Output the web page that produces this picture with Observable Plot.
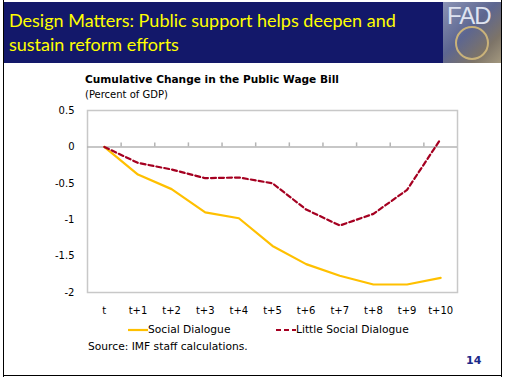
<!DOCTYPE html>
<html>
<head>
<meta charset="utf-8">
<script src="https://cdn.jsdelivr.net/npm/d3@7"></script>
<script src="https://cdn.jsdelivr.net/npm/@observablehq/plot@0.6"></script>
<style>
  html, body { margin: 0; padding: 0; background: #fff; }
  #page { position: relative; width: 506px; height: 380px; overflow: hidden; background: #fff; font-family: "DejaVu Sans", Verdana, sans-serif; }
  #chart { position: absolute; left: 0; top: 0; }
  .abs { position: absolute; white-space: nowrap; }
  #header { position: absolute; left: 3px; top: 2px; width: 440px; height: 61px; background: #13186a; }
  #title { left: 9px; top: 8px; color: #ffff00; font-family: Lato, "Open Sans", sans-serif; font-size: 18px; line-height: 24px; }
  #logo { position: absolute; left: 443px; top: 2px; width: 59px; height: 61px; background: linear-gradient(135deg, #8a93b5 0%, #5d6690 45%, #7d7468 75%, #a59a80 100%); }
  #logo span { position: absolute; left: 4px; top: 0px; font-family: "Liberation Sans", sans-serif; font-size: 24px; color: #dfe3f0; letter-spacing: -1px; }
  #logo i { position: absolute; left: 12px; top: 24px; width: 34px; height: 34px; border-radius: 50%; border: 2px solid #c9b27a; box-sizing: border-box; }
  #borderL { position: absolute; left: 3px; top: 0; width: 1px; height: 377px; background: #000; }
  #borderR { position: absolute; left: 501px; top: 0; width: 1px; height: 377px; background: #000; }
  #borderB { position: absolute; left: 3px; top: 375px; width: 499px; height: 1px; background: #000; }
  #ctitle { left: 85px; top: 73px; font-size: 10.6px; font-weight: bold; color: #000; }
  #csub { left: 85px; top: 89px; font-size: 10px; color: #000; }
  .leg { top: 323px; font-size: 10.7px; color: #000; }
  #source { left: 88px; top: 340px; font-size: 10.7px; color: #000; }
  #pnum { left: 466px; top: 354px; font-size: 11px; font-weight: bold; color: #1b2a8a; }
</style>
</head>
<body>
<div id="page">
  <div id="chart"></div>
  <div id="header"></div>
  <div id="logo"><span>FAD</span><i></i></div>
  <div id="title" class="abs">Design Matters: Public support helps deepen and<br>sustain reform efforts</div>
  <div id="borderL"></div>
  <div id="borderR"></div>
  <div id="borderB"></div>
  <div id="ctitle" class="abs">Cumulative Change in the Public Wage Bill</div>
  <div id="csub" class="abs">(Percent of GDP)</div>
  <div id="legend"></div>
  <div id="source" class="abs">Source: IMF staff calculations.</div>
  <div id="pnum" class="abs">14</div>
</div>
<script>
const periods = ["t", "t+1", "t+2", "t+3", "t+4", "t+5", "t+6", "t+7", "t+8", "t+9", "t+10"];
const socialDialogue = [0, -0.38, -0.58, -0.90, -0.98, -1.36, -1.61, -1.77, -1.89, -1.89, -1.80];
const littleSocialDialogue = [0, -0.22, -0.31, -0.43, -0.42, -0.50, -0.86, -1.08, -0.92, -0.59, 0.11];
const yTicks = [0.5, 0, -0.5, -1, -1.5, -2];
const seriesNames = ["Social Dialogue", "Little Social Dialogue"];
const seriesColors = ["#ffc000", "#a50021"];

const rowsA = periods.map((p, i) => ({i, value: socialDialogue[i]}));
const rowsB = periods.map((p, i) => ({i, value: littleSocialDialogue[i]}));
const boundaries = periods.slice(1).map((p, i) => i + 0.5);

const chart = Plot.plot({
  width: 506,
  height: 380,
  marginLeft: 87,
  marginRight: 49,
  marginTop: 110,
  marginBottom: 88,
  style: {fontFamily: "DejaVu Sans, Verdana, sans-serif", fontSize: "10px", color: "#000", background: "transparent"},
  x: {domain: [-0.5, periods.length - 0.5]},
  y: {domain: [-2, 0.5]},
  marks: [
    Plot.frame({stroke: "#c8c8c8", strokeWidth: 1.5}),
    Plot.ruleY([0], {stroke: "#b4b4b4", strokeWidth: 1.5}),
    Plot.ruleX(boundaries, {y1: 0, y2: 0.055, stroke: "#b4b4b4", strokeWidth: 1.5}),
    Plot.axisY(yTicks, {tickSize: 0, tickPadding: 13, tickFormat: d => d3.format("")(d).replace("−", "-"), label: null}),
    Plot.axisX(periods.map((p, i) => i), {tickSize: 0, tickPadding: 14, tickFormat: i => periods[i], label: null}),
    Plot.line(rowsA, {x: "i", y: "value", stroke: seriesColors[0], strokeWidth: 2.2}),
    Plot.line(rowsB, {x: "i", y: "value", stroke: seriesColors[1], strokeWidth: 2.2, strokeDasharray: "5,3"})
  ]
});
document.getElementById("chart").appendChild(chart);

const legend = document.getElementById("legend");
const legX = [128, 276];
seriesNames.forEach((name, k) => {
  const item = document.createElement("div");
  item.className = "abs leg";
  item.style.left = legX[k] + "px";
  const dash = k === 1 ? 'stroke-dasharray="5,3"' : '';
  item.innerHTML = `<svg width="20" height="10" style="vertical-align:middle"><line x1="0" x2="20" y1="5" y2="5" stroke="${seriesColors[k]}" stroke-width="2.2" ${dash}/></svg>${name}`;
  legend.appendChild(item);
});
</script>
</body>
</html>
